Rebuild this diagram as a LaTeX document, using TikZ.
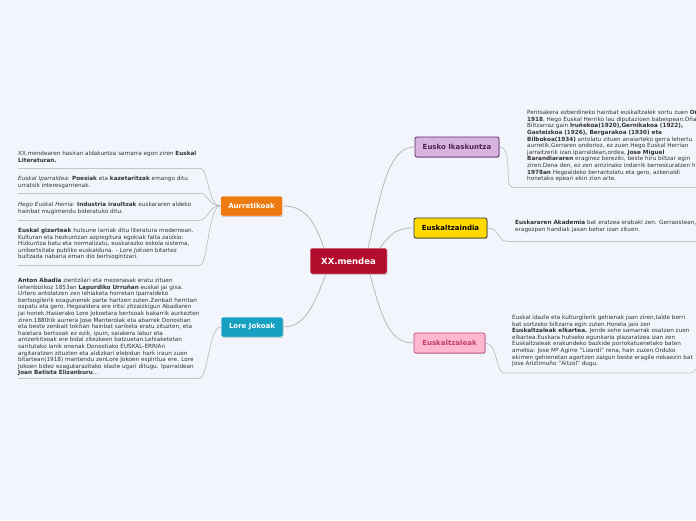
\documentclass[tikz,border=0pt]{standalone}
\usepackage{fontspec}
\setmainfont{DejaVu Sans}
\usetikzlibrary{shadows}
\definecolor{bg}{HTML}{F3F5FD}
\definecolor{lnk}{HTML}{B8B8B8}
\definecolor{txt}{HTML}{333333}
\definecolor{cenc}{HTML}{B30D2E}
\definecolor{aurc}{HTML}{EE7A12}
\definecolor{lorec}{HTML}{16A0C2}
\definecolor{euskof}{HTML}{D9B3E0}
\definecolor{euskob}{HTML}{5C2A64}
\definecolor{zaindf}{HTML}{FFD900}
\definecolor{zaindb}{HTML}{333333}
\definecolor{zalef}{HTML}{FFB6CF}
\definecolor{zaleb}{HTML}{C5487C}
\definecolor{zalet}{HTML}{C2406F}
\begin{document}
\begin{tikzpicture}[x=1pt,y=-1pt,
  topic/.style={rounded corners=2pt, inner sep=0pt, align=center,
    font=\fontsize{7}{8}\selectfont\bfseries,
    drop shadow={shadow xshift=0.6pt,shadow yshift=-0.8pt,opacity=0.25,fill=black}},
  body/.style={anchor=north west, inner sep=0pt, align=left,
    font=\fontsize{5.7}{6.6}\selectfont, text=txt},
  conn/.style={draw=lnk, line width=0.8pt},
  uline/.style={draw=lnk!80, line width=0.6pt}]
\useasboundingbox[fill=bg] (0,0) rectangle (696,520);
\clip (0,0) rectangle (696,520);

% topic nodes
\node[topic, fill=cenc, draw=white, line width=0.5pt, text=white,
  minimum width=77pt, minimum height=26pt, font=\fontsize{8.5}{10}\selectfont\bfseries]
  (c) at (348.5,261) {XX.mendea};
\node[topic, fill=aurc, draw=white, line width=0.5pt, text=white,
  minimum width=62pt, minimum height=20pt] (aur) at (251.5,206) {Aurretikoak};
\node[topic, fill=lorec, draw=white, line width=0.5pt, text=white,
  minimum width=62pt, minimum height=20pt] (lore) at (252,327) {Lore Jokoak};
\node[topic, fill=euskof, draw=euskob, line width=0.8pt, text=euskob!80!black,
  minimum width=84pt, minimum height=20pt] (eusko) at (457,147) {Eusko Ikaskuntza};
\node[topic, fill=zaindf, draw=zaindb, line width=0.8pt, text=black,
  minimum width=73pt, minimum height=20pt] (zaind) at (450.5,228) {Euskaltzaindia};
\node[topic, fill=zalef, draw=zaleb, line width=0.7pt, text=zalet,
  minimum width=71pt, minimum height=20pt] (zale) at (449.5,343) {Euskaltzaleak};

% main connectors
\coordinate (c1) at (368,248);
\coordinate (c2) at (380,248);
\coordinate (c3) at (370,274);
\coordinate (c4) at (324,248);
\coordinate (c5) at (326,274);
\draw[conn] (c1) .. controls (382,190) and (388,147) .. (eusko.west);
\draw[conn] (c2) .. controls (390,234) and (396,228) .. (zaind.west);
\draw[conn] (c3) .. controls (382,320) and (390,343) .. (zale.west);
\draw[conn] (c4) .. controls (314,220) and (305,206) .. (aur.east);
\draw[conn] (c5) .. controls (314,305) and (305,327) .. (lore.east);

% left texts
\node[body] (t1) at (18,151) {XX.mendearen hasiran aldakuntza samarra egon ziren \textbf{Euskal}\\\textbf{Literaturan.}};
\node[body] (t2) at (18,176) {\textit{Euskal Iparraldea}: \textbf{Poesiak} eta \textbf{kazetaritzak} emango ditu\\urratsik interesgarrienak.};
\node[body] (t3) at (18,202) {\textit{Hego Euskal Herria}: \textbf{Industria iraultzak} euskararen aldeko\\hainbat mugimendu bideratuko ditu.};
\node[body] (t4) at (18,228) {\textbf{Euskal gizarteak} hutsune larriak ditu literatura modernoan.\\Kulturan eta hezkuntzan azpiegitura egokiak falta zaizkio:\\Hizkuntza batu eta normalizatu, euskarazko eskola sistema,\\unibertsitate publiko euskalduna. - \textit{Lore Jokoen} bitartez\\bultzada nabaria eman dio bertsogintzari.};
\node[body] (t5) at (18,278) {\textbf{Anton Abadia} zientzilari eta mezenasak eratu zituen\\lehenbizikoz 1853an \textbf{Lapurdiko Urruñan} euskal jai gisa.\\Urtero antolatzen zen lehiaketa horretan Iparraldeko\\bertsogilerik ezagunenek parte hartzen zuten.Zenbait herritan\\ospatu eta gero, Hegoaldera ere iritsi zitzaizkigun Abadiaren\\jai horiek.Hasierako Lore Jokoetara bertsoak bakarrik aurkezten\\ziren.1880tik aurrera Jose Manterolak eta abarrek Donostian\\eta beste zenbait tokitan hainbat sariketa eratu zituzten, eta\\haietara bertsoak ez ezik, ipuin, saiakera labur eta\\antzerkitxoak ere bidal zitezkeen batzuetan.Lehiaketetan\\saritutako lanik onenak Donostiako EUSKAL-ERRIAn\\argitaratzen zituzten eta aldizkari elebidun hark iraun zuen\\bitartean(1918) mantendu zenLore Jokoen espiritua ere. Lore\\Jokoen bidez ezagutarazitako idazle ugari ditugu. Iparraldean\\\textbf{Joan Batista Elizanburu}...};

% left underlines and connectors
\coordinate (u1) at (200,168);
\coordinate (u2) at (200,193);
\coordinate (u3) at (200,220);
\coordinate (u4) at (200,265);
\coordinate (u5) at (200,378);
\foreach \u in {u1,u2,u3,u4}{
  \draw[uline] (18,0 |- \u) -- (\u);
  \draw[conn, line width=0.6pt] (aur.west) .. controls +(-12,0) and +(8,0) .. (\u);
}
\draw[uline] (18,0 |- u5) -- (u5);
\draw[conn, line width=0.6pt] (lore.west) .. controls +(-12,0) and +(8,0) .. (u5);

% right texts
\node[body] (t6) at (527,110) {Pentsakera ezberdineko hainbat euskaltzalek sortu zuen \textbf{Oñatin}\\\textbf{1918}, Hego Euskal Herriko lau diputazioen babespean.Oñatiko\\Biltzarraz gain \textbf{Iruñekoa(1920),Gernikakoa (1922),}\\\textbf{Gasteizkoa (1926), Bergarakoa (1930) eta}\\\textbf{Bilbokoa(1934)} antolatu zituen anaiarteko gerra lehertu\\aurretik.Gerraren ondorioz, ez zuen Hego Euskal Herrian\\jarraitzerik izan.Iparraldean,ordea, \textbf{Jose Miguel}\\\textbf{Barandiararen} eraginez bereziki, beste hiru biltzar egin\\ziren.Dena den, ez zen antzinako indarrik berreskuratzen hasi\\\textbf{1978an} Hegoaldeko berrantolatu eta gero, azkenaldi\\honetako epeari ekin zion arte.};
\node[body] (t7) at (515,220) {\textbf{Euskararen Akademia} bat eratzea erabaki zen. Gerraostean,\\eragozpen handiak jasan behar izan zituen.};
\node[body] (t8) at (512,315) {Euskal idazle eta kulturgilerik gehienak joan ziren,talde berri\\bat sortzeko biltzarra egin zuten.Honela jaio zen\\\textbf{Euskaltzaleak elkartea.} Jende sehe samarrak osatzen zuen\\elkartea.Euskara hutseko egunkaria plazaratzea izan zen\\Euskaltzaleak erakundeko bazkide porrokatuenetako baten\\ametsa: Jose Mª Agirre "Lizardi" rena, hain zuzen.Orduko\\ekimen gehienetan agertzen zaigun beste eragile nekaezin bat\\Jose Ariztimuño "Aitzol" dugu.};

% right connectors and underlines
\coordinate (r1) at (512,187);
\coordinate (r2) at (506,241);
\coordinate (r3) at (504,373);
\coordinate (r1e) at (696,187);
\coordinate (r2e) at (696,241);
\coordinate (r3e) at (689,373);
\coordinate (r3h) at (696,369);
\draw[conn, line width=0.6pt] (eusko.east) .. controls +(14,0) and +(-8,0) .. (r1);
\draw[conn, line width=0.6pt] (zaind.east) .. controls +(12,0) and +(-8,0) .. (r2);
\draw[conn, line width=0.6pt] (zale.east) .. controls +(12,0) and +(-8,0) .. (r3);
\draw[uline] (r1) -- (r1e);
\draw[uline] (r2) -- (r2e);
\draw[uline] (r3) -- (r3e) .. controls (692,373) and (694,372) .. (r3h);
\end{tikzpicture}
\end{document}
